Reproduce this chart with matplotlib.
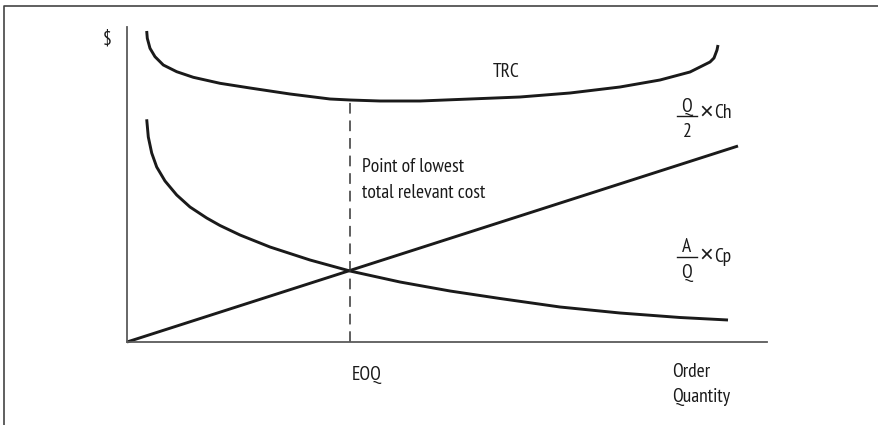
import numpy as np
import matplotlib
matplotlib.use("Agg")
import matplotlib.pyplot as plt
from matplotlib.lines import Line2D

plt.rcParams['font.family'] = ['PT Sans Narrow', 'Liberation Sans', 'DejaVu Sans']

# valeurs (quantite, cout) - unites arbitraires
trc_q = [19.7, 20.3, 23, 28, 36.3, 49.7, 66.3, 93, 123, 163, 203, 223, 253, 293,
         343, 393, 443, 493, 533, 563, 583, 587, 590, 591]
trc_c = [311, 303.7, 293.7, 285.3, 277, 270.3, 264.7, 258.7, 254, 248, 243, 242, 241, 241,
         243, 245, 249, 255, 262, 270, 280, 284, 292, 297]

order_q = [19.7, 21.3, 24.7, 29.7, 38, 49.7, 63, 79.7, 93, 113, 143, 183, 223,
           273, 323, 373, 433, 493, 553, 601]
order_c = [222.7, 205, 189, 175, 161, 147, 135, 124, 116.5, 107, 95, 82, 71,
           60, 51, 43.5, 35, 29, 24.5, 22]

hold_q = [0, 611]
hold_c = [0, 196]

eoq = 223
trc_min = 241

fig = plt.figure(figsize=(8.79, 4.25), dpi=100)
ax = fig.add_axes([127 / 879, 83 / 425, 640 / 879, 315 / 425])
ax.set_xlim(0, 640)
ax.set_ylim(0, 315)
ax.set_xticks([])
ax.set_yticks([])
for s in ['top', 'right']:
    ax.spines[s].set_visible(False)
for s in ['left', 'bottom']:
    ax.spines[s].set_color('#5a5a5a')
    ax.spines[s].set_linewidth(1.3)

col = '#1a1a1a'
for q, c in [(trc_q, trc_c), (order_q, order_c), (hold_q, hold_c)]:
    ax.plot(q, c, color=col, lw=2.1, solid_capstyle='butt', solid_joinstyle='round', clip_on=False)
ax.plot([eoq, eoq], [0, trc_min], color='#333333', lw=1.1, dashes=(7, 4.5))

fs = 14
tc = '#1a1a1a'
kw = dict(fontsize=fs, color=tc, va='baseline', clip_on=False)
ax.text(-20, 298, '$', ha='center', **kw)
ax.text(379, 265, 'TRC', ha='center', **kw)
ax.text(235, 170.5, 'Point of lowest', ha='left', **kw)
ax.text(235, 144, 'total relevant cost', ha='left', **kw)
ax.text(225, -38, 'EOQ', ha='left', **kw)
ax.text(545, -35, 'Order', ha='left', **kw)
ax.text(545, -60, 'Quantity', ha='left', **kw)

# signe x plus grand et fin
xkw = dict(fontsize=17, color=tc, ha='center', va='center', family=['Liberation Sans', 'DejaVu Sans'])

# Q/2 x Ch
ax.text(560, 230, 'Q', ha='center', **kw)
ax.plot([550, 570], [226, 226], color=tc, lw=1.0, clip_on=False)
ax.text(560, 205, '2', ha='center', **kw)
ax.text(579, 229, '×', **xkw)
ax.text(587, 224, 'Ch', ha='left', **kw)

# A/Q x Cp
ax.text(560, 90, 'A', ha='center', **kw)
ax.plot([550, 570], [85, 85], color=tc, lw=1.0, clip_on=False)
ax.text(560, 64, 'Q', ha='center', **kw)
ax.text(579, 86, '×', **xkw)
ax.text(587, 80, 'Cp', ha='left', **kw)

# cadre
fig.add_artist(Line2D([4.5 / 879, 4.5 / 879, 1.01], [-0.01, 1 - 6 / 425, 1 - 6 / 425],
                      transform=fig.transFigure, color='#444444', lw=1.2))

fig.savefig('out.png', dpi=100)
